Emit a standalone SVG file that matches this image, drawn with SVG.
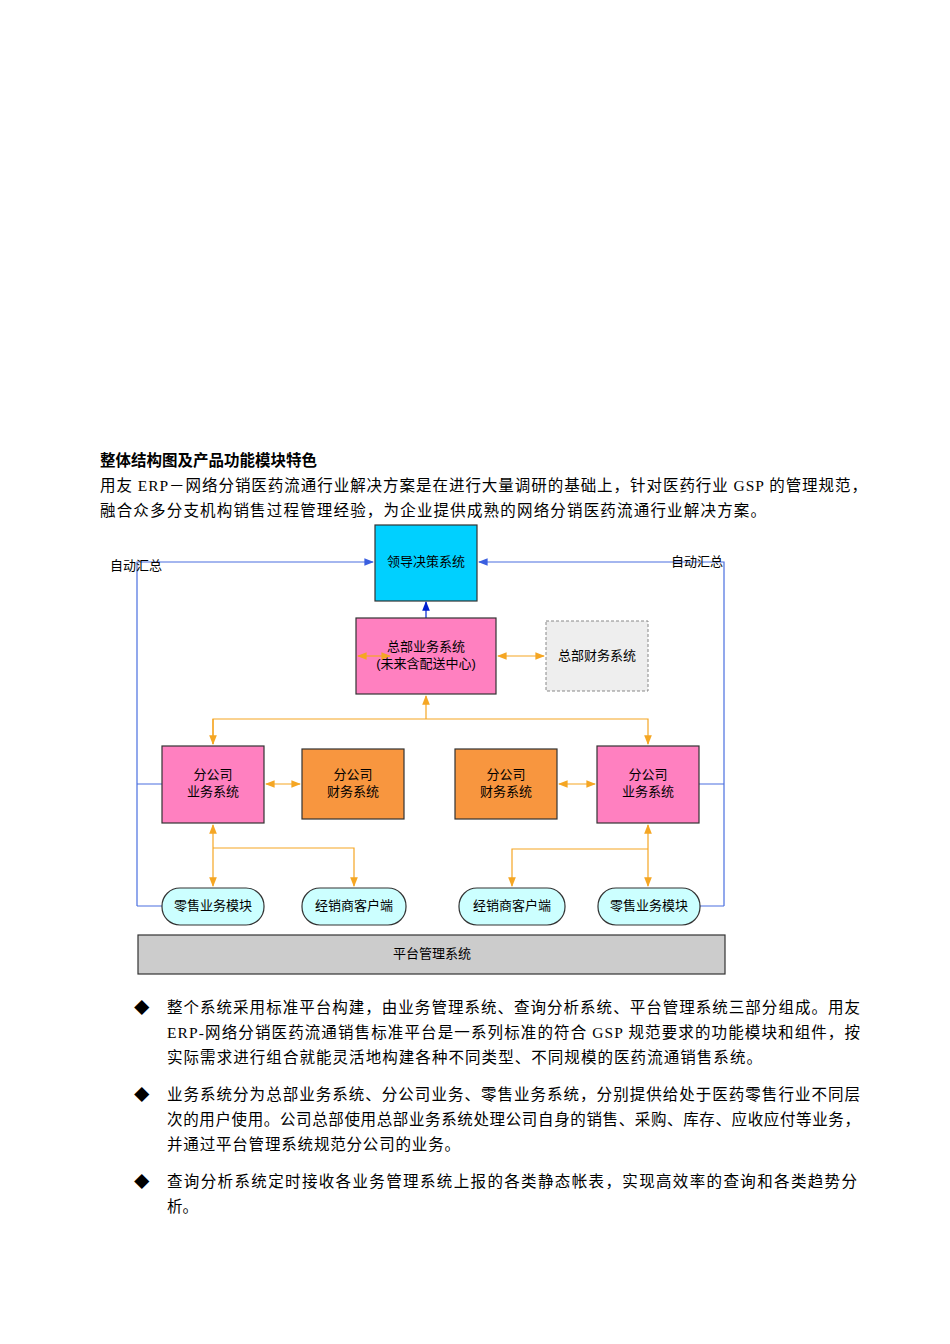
<svg xmlns="http://www.w3.org/2000/svg" width="950" height="1344" viewBox="0 0 950 1344">
<style>
.t{font-family:"Liberation Serif","Noto Sans CJK SC",serif;font-size:15.5px;fill:#000}
.n{font-family:"Liberation Sans","Noto Sans CJK SC",sans-serif;font-size:13px;fill:#000;text-anchor:middle}
.b{stroke:#333;stroke-width:1.2}
.o{stroke:#f5a623;stroke-width:1.2;fill:none}
.bl{stroke:#4a6fe0;stroke-width:1.2;fill:none}
</style>
<defs>
<marker id="ao" viewBox="0 0 10 10" refX="9" refY="5" markerWidth="8" markerHeight="8" orient="auto-start-reverse"><path d="M0,1L10,5L0,9z" fill="#f5a623"/></marker>
<marker id="ab" viewBox="0 0 10 10" refX="9" refY="5" markerWidth="8" markerHeight="8" orient="auto-start-reverse"><path d="M0,1L10,5L0,9z" fill="#3a5fe0"/></marker>
<marker id="ad" viewBox="0 0 10 10" refX="9" refY="5" markerWidth="8" markerHeight="8" orient="auto"><path d="M0,1L10,5L0,9z" fill="#0020d0"/></marker>
</defs>
<rect width="950" height="1344" fill="#fff"/>
<text class="t" x="100" y="466" font-weight="bold">整体结构图及产品功能模块特色</text>
<text class="t" x="100" y="491" textLength="767" lengthAdjust="spacing">用友 ERP－网络分销医药流通行业解决方案是在进行大量调研的基础上，针对医药行业 GSP 的管理规范，</text>
<text class="t" x="100" y="516" textLength="666" lengthAdjust="spacing">融合众多分支机构销售过程管理经验，为企业提供成熟的网络分销医药流通行业解决方案。</text>
<g id="connectors">
<path class="bl" d="M137,906V562H373" marker-end="url(#ab)"/>
<path class="bl" d="M724,906V562H479" marker-end="url(#ab)"/>
<path class="bl" d="M137,784H162M137,906H162M724,784H699M724,906H700"/>
<path d="M426,618V602" stroke="#0020d0" stroke-width="1.2" marker-end="url(#ad)"/>
<path class="o" d="M426,719V696" marker-end="url(#ao)"/>
<path class="o" d="M213,744V719H648V744" marker-end="url(#ao)"/>
<path class="o" d="M213,719V744" marker-end="url(#ao)"/>
<path class="o" d="M498,656H544" marker-start="url(#ao)" marker-end="url(#ao)"/>
<path class="o" d="M266,784H300" marker-start="url(#ao)" marker-end="url(#ao)"/>
<path class="o" d="M559,784H595" marker-start="url(#ao)" marker-end="url(#ao)"/>
<path class="o" d="M213,825V886" marker-start="url(#ao)" marker-end="url(#ao)"/>
<path class="o" d="M213,848H354V886" marker-end="url(#ao)"/>
<path class="o" d="M648,825V886" marker-start="url(#ao)" marker-end="url(#ao)"/>
<path class="o" d="M648,849H512V886" marker-end="url(#ao)"/>
</g>
<text class="n" x="136" y="570">自动汇总</text>
<text class="n" x="697" y="566" text-anchor="start">自动汇总</text>
<g id="leader"><rect class="b" x="375" y="525" width="102" height="76" fill="#00d0ff"/><text class="n" x="426" y="566">领导决策系统</text></g>
<g id="hq"><rect class="b" x="356" y="618" width="140" height="76" fill="#ff80c0"/><text class="n" x="426" y="651">总部业务系统</text><text class="n" x="426" y="668">(未来含配送中心)</text>
<path class="o" d="M358,656H390" marker-start="url(#ao)" marker-end="url(#ao)"/></g>
<g id="hqfin"><rect x="546" y="621" width="102" height="70" fill="#eee" stroke="#888" stroke-dasharray="3,2"/><text class="n" x="597" y="660">总部财务系统</text></g>
<g id="lbiz"><rect class="b" x="162" y="746" width="102" height="77" fill="#ff80c0"/><text class="n" x="213" y="779">分公司</text><text class="n" x="213" y="796">业务系统</text></g>
<g id="lfin"><rect class="b" x="302" y="749" width="102" height="70" fill="#f8963f"/><text class="n" x="353" y="779">分公司</text><text class="n" x="353" y="796">财务系统</text></g>
<g id="rfin"><rect class="b" x="455" y="749" width="102" height="70" fill="#f8963f"/><text class="n" x="506" y="779">分公司</text><text class="n" x="506" y="796">财务系统</text></g>
<g id="rbiz"><rect class="b" x="597" y="746" width="102" height="77" fill="#ff80c0"/><text class="n" x="648" y="779">分公司</text><text class="n" x="648" y="796">业务系统</text></g>
<g id="p1"><rect class="b" x="162" y="888" width="102" height="37" rx="18" fill="#ccffff"/><text class="n" x="213" y="910">零售业务模块</text></g>
<g id="p2"><rect class="b" x="302" y="888" width="104" height="37" rx="18" fill="#ccffff"/><text class="n" x="354" y="910">经销商客户端</text></g>
<g id="p3"><rect class="b" x="459" y="888" width="106" height="37" rx="18" fill="#ccffff"/><text class="n" x="512" y="910">经销商客户端</text></g>
<g id="p4"><rect class="b" x="598" y="888" width="102" height="37" rx="18" fill="#ccffff"/><text class="n" x="649" y="910">零售业务模块</text></g>
<g id="platform"><rect class="b" x="138" y="935" width="587" height="39" fill="#cccccc"/><text class="n" x="432" y="958">平台管理系统</text></g>
<text class="t" x="134" y="1013">◆</text>
<text class="t" x="167" y="1013" textLength="693" lengthAdjust="spacing">整个系统采用标准平台构建，由业务管理系统、查询分析系统、平台管理系统三部分组成。用友</text>
<text class="t" x="167" y="1038" textLength="693" lengthAdjust="spacing">ERP-网络分销医药流通销售标准平台是一系列标准的符合 GSP 规范要求的功能模块和组件，按</text>
<text class="t" x="167" y="1063" textLength="595" lengthAdjust="spacing">实际需求进行组合就能灵活地构建各种不同类型、不同规模的医药流通销售系统。</text>
<text class="t" x="134" y="1100">◆</text>
<text class="t" x="167" y="1100" textLength="693" lengthAdjust="spacing">业务系统分为总部业务系统、分公司业务、零售业务系统，分别提供给处于医药零售行业不同层</text>
<text class="t" x="167" y="1125" textLength="693" lengthAdjust="spacing">次的用户使用。公司总部使用总部业务系统处理公司自身的销售、采购、库存、应收应付等业务，</text>
<text class="t" x="167" y="1150" textLength="293" lengthAdjust="spacing">并通过平台管理系统规范分公司的业务。</text>
<text class="t" x="134" y="1187">◆</text>
<text class="t" x="167" y="1187" textLength="690" lengthAdjust="spacing">查询分析系统定时接收各业务管理系统上报的各类静态帐表，实现高效率的查询和各类趋势分</text>
<text class="t" x="167" y="1212">析。</text>
</svg>
